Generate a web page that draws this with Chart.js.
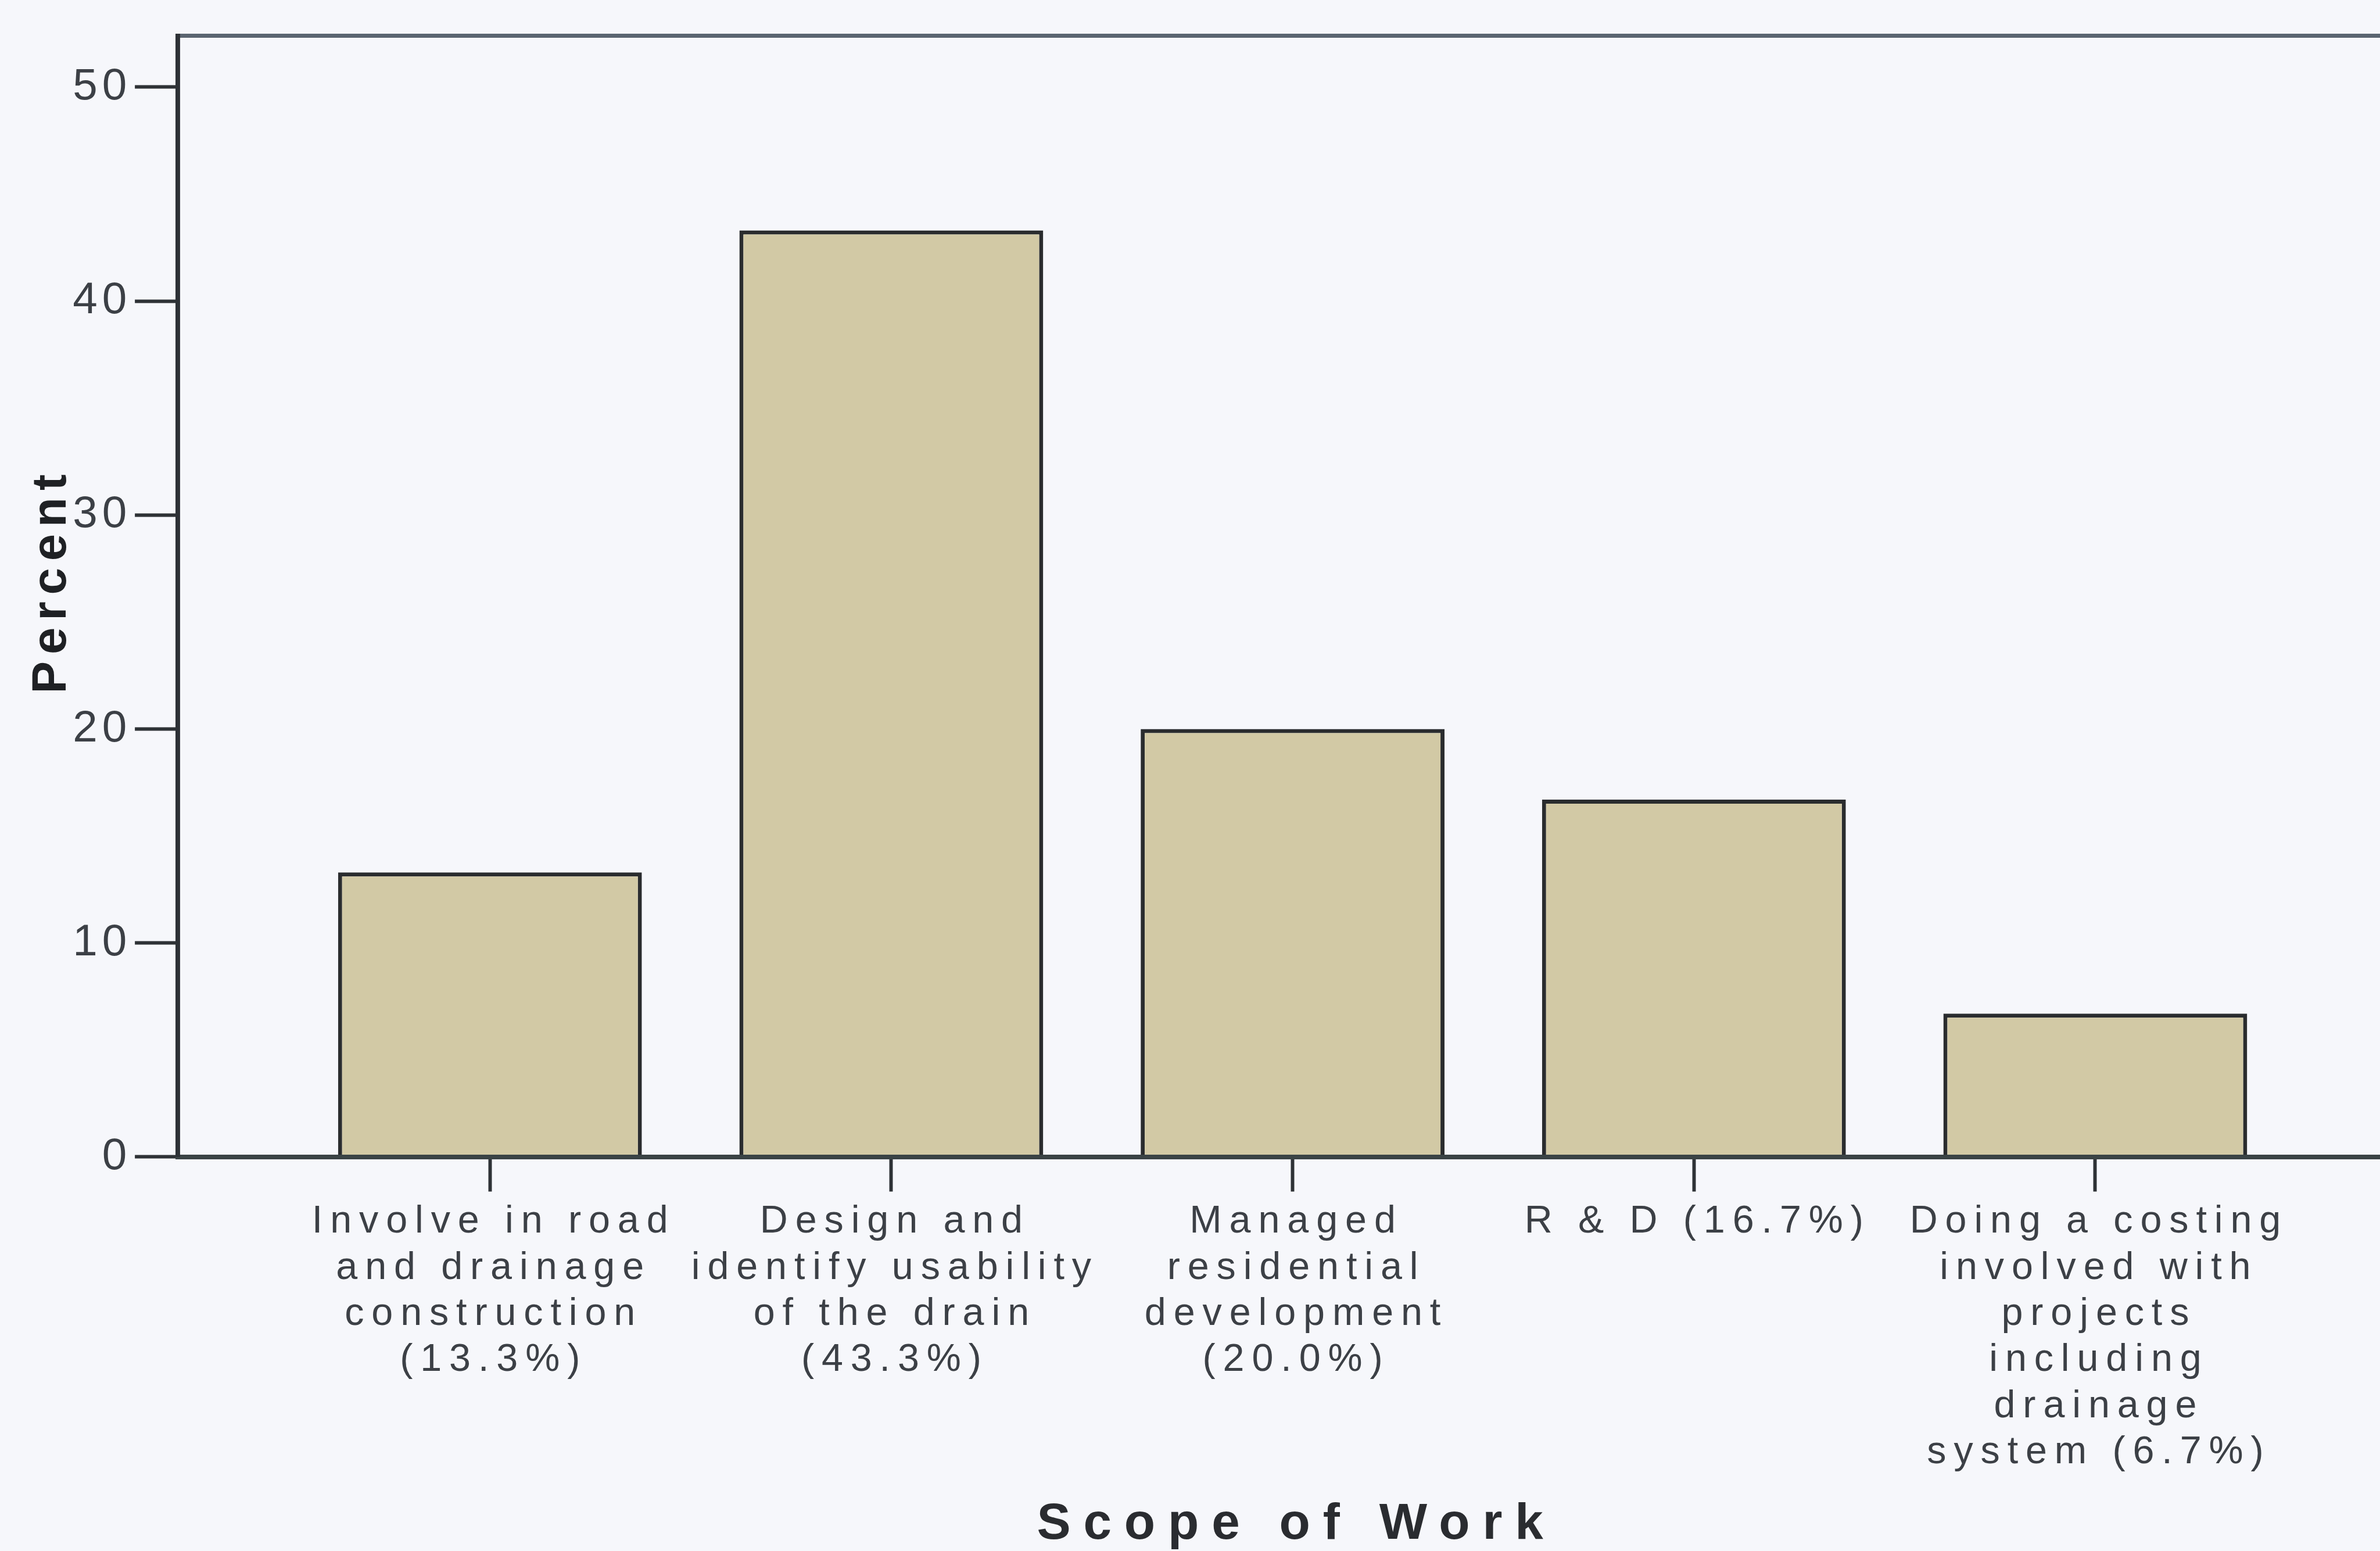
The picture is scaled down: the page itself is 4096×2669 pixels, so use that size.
<!DOCTYPE html>
<html>
<head>
<meta charset="utf-8">
<title>Scope of Work</title>
<script src="https://cdn.jsdelivr.net/npm/chart.js@4.4.1/dist/chart.umd.min.js"></script>
<style>
    html, body {
        margin: 0;
        padding: 0;
        background: #f6f7fb;
    }
    #wrap {
        position: relative;
        width: 4096px;
        height: 2669px;
    }
</style>
</head>
<body>
<div id="wrap"><canvas id="scopeChart"></canvas></div>
<script>
// {pct} is replaced by the bar's own value
const scopeLabels = [
    ['Involve in road', 'and drainage', 'construction', '({pct})'],
    ['Design and', 'identify usability', 'of the drain', '({pct})'],
    ['Managed', 'residential', 'development', '({pct})'],
    ['R & D ({pct})'],
    ['Doing a costing', 'involved with', 'projects', 'including', 'drainage', 'system ({pct})']
];
const percentValues = [13.3, 43.3, 20.0, 16.7, 6.7];
const yTicks = [0, 10, 20, 30, 40, 50];

const S = 0.992; // size factor for every length below
const FONT = "'Liberation Sans', Arial, sans-serif";
const LABEL_COLOR = '#3c4046';
const LINE_COLOR = '#2e3236';

const tickLabel = i => scopeLabels[i].map(line => line.replace('{pct}', percentValues[i].toFixed(1) + '%'));

// canvas letterSpacing is not a Chart.js font option, so the scale text drawing gets wrapped
const scaleText = {
    x: {labels: 13, title: 22, labelShift: [6.5, 0], titleShift: [30.5, 0]},
    y: {labels: 8, title: 12, labelShift: [0, 0], titleShift: [0, -27.5]}
};

const spacedText = {
    id: 'spacedText',
    afterUpdate(chart) {
        Object.values(chart.scales).forEach(scale => {
            const cfg = scaleText[scale.id];
            if (!cfg || scale.$spaced) return;
            scale.$spaced = true;
            const wrap = (fn, spacing, shift) => function (...args) {
                const ctx = this.ctx;
                ctx.save();
                ctx.letterSpacing = (spacing * S) + 'px';
                ctx.translate(shift[0] * S, shift[1] * S);
                fn.apply(this, args);
                ctx.restore();
            };
            scale.drawLabels = wrap(scale.drawLabels, cfg.labels, cfg.labelShift);
            scale.drawTitle = wrap(scale.drawTitle, cfg.title, cfg.titleShift);
        });
    }
};

Chart.defaults.font.family = FONT;

new Chart(document.getElementById('scopeChart'), {
    type: 'bar',
    data: {
        datasets: [{
            label: 'Percent',
            data: percentValues.map((v, i) => ({x: i + 1, y: v})),
            backgroundColor: '#d2c9a5',
            borderColor: '#2a2c2e',
            borderWidth: 7 * S,
            borderSkipped: 'start',
            categoryPercentage: 1,
            barPercentage: 0.757
        }]
    },
    options: {
        responsive: true,
        maintainAspectRatio: false,
        animation: false,
        devicePixelRatio: 1,
        layout: {padding: 0},
        plugins: {
            legend: {display: false},
            tooltip: {enabled: false},
            title: {display: false}
        },
        scales: {
            x: {
                type: 'linear',
                position: 'bottom',
                min: 0.2215,
                max: 5.7095,
                bounds: 'data',
                offset: false,
                afterBuildTicks: s => { s.ticks = percentValues.map((_, i) => ({value: i + 1})); },
                afterFit: s => { s.height = 2669 - 2007 * S; },
                grid: {
                    offset: false,
                    drawOnChartArea: false,
                    tickLength: 60 * S,
                    tickWidth: 6 * S,
                    tickColor: LINE_COLOR
                },
                border: {color: '#3a4345', width: 8 * S, z: 1},
                ticks: {
                    autoSkip: false,
                    maxRotation: 0,
                    minRotation: 0,
                    padding: 13 * S,
                    color: LABEL_COLOR,
                    font: {size: 67 * S, lineHeight: 1.194},
                    callback: v => tickLabel(v - 1)
                },
                title: {
                    display: true,
                    text: 'Scope of Work',
                    color: '#2a2c30',
                    font: {size: 88 * S, weight: 'bold', lineHeight: 1},
                    padding: {top: 0, bottom: 1.3 * S}
                }
            },
            xTop: {
                type: 'linear',
                position: 'top',
                afterFit: s => { s.height = 62 * S; },
                grid: {display: false, drawTicks: false},
                ticks: {display: false},
                border: {color: '#5b6570', width: 7 * S}
            },
            y: {
                position: 'left',
                min: 0,
                max: 52.4,
                afterBuildTicks: s => { s.ticks = yTicks.map(v => ({value: v})); },
                afterFit: s => { s.width = 308 * S; },
                grid: {
                    drawOnChartArea: false,
                    tickLength: 74 * S,
                    tickWidth: 6 * S,
                    tickColor: LINE_COLOR
                },
                border: {color: '#2d3136', width: 8 * S, z: 1},
                ticks: {
                    padding: 6 * S,
                    color: LABEL_COLOR,
                    font: {size: 77 * S}
                },
                title: {
                    display: true,
                    text: 'Percent',
                    color: '#1f2124',
                    font: {size: 84 * S, weight: 'bold', lineHeight: 1},
                    padding: {top: 48.5 * S, bottom: 0}
                }
            }
        }
    },
    plugins: [spacedText]
});
</script>
</body>
</html>
